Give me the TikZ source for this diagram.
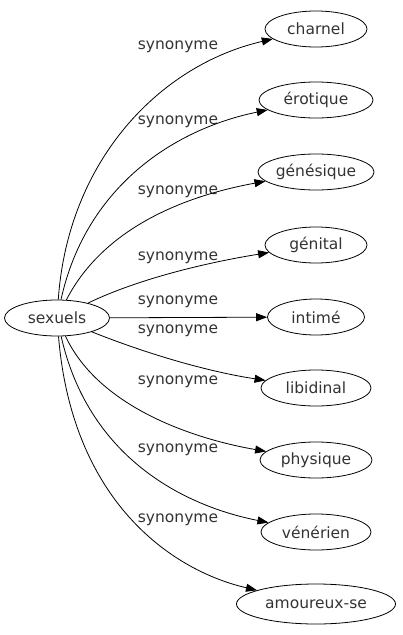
\documentclass[tikz,border=0pt]{standalone}
\usepackage{fontspec}
\setmainfont{DejaVu Sans}
\usetikzlibrary{shapes.geometric,arrows.meta}
\begin{document}
\begin{tikzpicture}[x=1pt,y=-1pt,
  word/.style={draw,ellipse,line width=0.8pt,inner sep=0pt,font=\fontsize{15.5}{16}\selectfont,text=black!80},
  lab/.style={font=\fontsize{15.5}{16}\selectfont,text=black!80,inner sep=0pt},
  link/.style={line width=0.8pt,-{Triangle[length=11pt,width=8pt]}}]
\useasboundingbox (0,0) rectangle (403,635);
\node[word,minimum width=105pt,minimum height=36pt] (s) at (57,318) {sexuels};
\node[word,minimum width=102pt,minimum height=36pt] (n1) at (316,29) {charnel};
\node[word,minimum width=114pt,minimum height=36pt] (n2) at (316,100) {érotique};
\node[word,minimum width=116pt,minimum height=36pt] (n3) at (316,172) {génésique};
\node[word,minimum width=102pt,minimum height=36pt] (n4) at (316,245) {génital};
\node[word,minimum width=97pt,minimum height=36pt] (n5) at (316,317) {intimé};
\node[word,minimum width=110pt,minimum height=36pt] (n6) at (316,388) {libidinal};
\node[word,minimum width=112pt,minimum height=36pt] (n7) at (316,460) {physique};
\node[word,minimum width=110pt,minimum height=36pt] (n8) at (316,532) {vénérien};
\node[word,minimum width=159pt,minimum height=40pt] (n9) at (316,604) {amoureux-se};
\node[lab] (l1) at (178,47) {synonyme};
\node[lab] (l2) at (178,122) {synonyme};
\node[lab] (l3) at (178,192) {synonyme};
\node[lab] (l4) at (178,258) {synonyme};
\node[lab] (l5) at (178,302) {synonyme};
\node[lab] (l6) at (178,331) {synonyme};
\node[lab] (l7) at (178,382) {synonyme};
\node[lab] (l8) at (178,450) {synonyme};
\node[lab] (l9) at (178,520) {synonyme};
\draw[link] (s) .. controls (68,160) and (160,65) .. (n1);
\draw[link] (s) .. controls (85,190) and (170,130) .. (n2);
\draw[link] (s) .. controls (105,225) and (190,195) .. (n3);
\draw[link] (s) .. controls (140,278) and (210,262) .. (n4);
\draw[link] (s) -- (n5);
\draw[link] (s) .. controls (150,355) and (210,372) .. (n6);
\draw[link] (s) .. controls (100,410) and (200,440) .. (n7);
\draw[link] (s) .. controls (88,455) and (180,505) .. (n8);
\draw[link] (s) .. controls (72,500) and (170,570) .. (n9);
\end{tikzpicture}
\end{document}
